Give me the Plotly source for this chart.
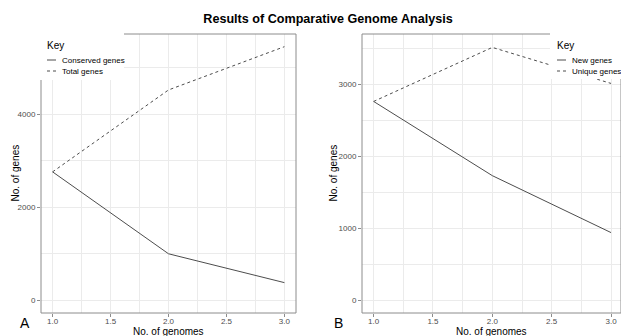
import plotly.graph_objects as go

# ---- data ----
genomes = [1.0, 2.0, 3.0]
conserved_genes = [2760, 1000, 380]
total_genes = [2760, 4520, 5450]
new_genes = [2760, 1730, 940]
unique_genes = [2760, 3510, 3010]

W, H = 621, 336
T, B = 34, 313  # plot area top / bottom in px

def px(x):
    return x / W

def py(y):
    return (B - y) / (B - T)

FONT = "Liberation Sans"
LINE_COL = "#4d4d4d"
GRID = "#ebebeb"
BORDER = "#8c8c8c"

fig = go.Figure()
fig.add_trace(go.Scatter(x=genomes, y=conserved_genes, mode="lines", name="Conserved genes",
                         line=dict(color=LINE_COL, width=1), xaxis="x", yaxis="y", showlegend=False))
fig.add_trace(go.Scatter(x=genomes, y=total_genes, mode="lines", name="Total genes",
                         line=dict(color=LINE_COL, width=1, dash="dot"), xaxis="x", yaxis="y", showlegend=False))
fig.add_trace(go.Scatter(x=genomes, y=new_genes, mode="lines", name="New genes",
                         line=dict(color=LINE_COL, width=1), xaxis="x2", yaxis="y2", showlegend=False))
fig.add_trace(go.Scatter(x=genomes, y=unique_genes, mode="lines", name="Unique genes",
                         line=dict(color=LINE_COL, width=1, dash="dot"), xaxis="x2", yaxis="y2", showlegend=False))

tickfont = dict(family=FONT, size=8, color="#4d4d4d")

def xax(domain, rng, anchor):
    return dict(domain=domain, range=rng, anchor=anchor, tick0=1, dtick=0.5, tickformat=".1f",
                showgrid=True, gridcolor=GRID, gridwidth=1,
                minor=dict(dtick=0.25, tick0=1, showgrid=True, gridcolor=GRID, gridwidth=0.5),
                ticks="outside", ticklen=3, tickcolor=BORDER, tickfont=tickfont,
                ticklabelstandoff=-3,
                zeroline=False, showline=False, automargin=False)

def yax(anchor, rng, dtick):
    return dict(anchor=anchor, range=rng, dtick=dtick, tick0=0,
                showgrid=True, gridcolor=GRID, gridwidth=1,
                minor=dict(dtick=dtick / 2, tick0=0, showgrid=True, gridcolor=GRID, gridwidth=0.5),
                ticks="outside", ticklen=3, tickcolor=BORDER, tickfont=tickfont,
                zeroline=False, showline=False, automargin=False)

fig.update_layout(
    width=W, height=H, autosize=False,
    margin=dict(l=0, r=0, t=T, b=H - B, pad=0),
    plot_bgcolor="white", paper_bgcolor="white",
    title=dict(text="Results of Comparative Genome Analysis", x=px(328), xref="paper",
               xanchor="center", y=1 - 19 / H, yanchor="middle",
               font=dict(family=FONT, size=12.6, color="#000000", weight="bold")),
    xaxis=xax([px(41), px(296)], [0.9, 3.1], "y"),
    yaxis=yax("x", [-272.5, 5722.5], 2000),
    xaxis2=xax([px(362), 1.0], [0.902, 3.084], "y2"),
    yaxis2=yax("x2", [-176, 3696], 1000),
)

shapes = []
# panel borders
for xr, yr in (("x domain", "y domain"), ("x2 domain", "y2 domain")):
    shapes.append(dict(type="rect", xref=xr, yref=yr, x0=0, x1=1, y0=0, y1=1,
                       line=dict(color=BORDER, width=1), layer="above"))
# legend backgrounds
shapes.append(dict(type="rect", xref="paper", yref="paper", x0=px(34), x1=px(124),
                   y0=py(80), y1=py(28), fillcolor="white", line=dict(width=0), layer="above"))
shapes.append(dict(type="rect", xref="paper", yref="paper", x0=px(550), x1=1.0,
                   y0=py(79), y1=py(28), fillcolor="white", line=dict(width=0), layer="above"))
# legend keys
for (x0, x1), yv, dash in (((47, 56), 60, "solid"), ((47, 56), 71, "dot"),
                           ((557, 566), 60, "solid"), ((557, 566), 71, "dot")):
    shapes.append(dict(type="line", xref="paper", yref="paper", x0=px(x0), x1=px(x1),
                       y0=py(yv), y1=py(yv), line=dict(color=LINE_COL, width=1, dash=dash),
                       layer="above"))
fig.update_layout(shapes=shapes)

ann = []
def label(text, x, y, size, color="#000000", anchor="left", angle=0):
    ann.append(dict(text=text, x=px(x), y=py(y), xref="paper", yref="paper",
                    xanchor=anchor, yanchor="middle", showarrow=False, textangle=angle,
                    font=dict(family=FONT, size=size, color=color)))

label("Key", 45, 45, 10)
label("Conserved genes", 60, 60, 8)
label("Total genes", 60, 71, 8)
label("Key", 555, 45, 10)
label("New genes", 570, 60, 8)
label("Unique genes", 570, 71, 8)
label("A", 25, 323, 14, anchor="center")
label("B", 338, 323, 14, anchor="center")
# axis titles
label("No. of genomes", 168.5, 331.5, 10, anchor="center")
label("No. of genomes", 491.5, 331.5, 10, anchor="center")
label("No. of genes", 15, 173.5, 10, anchor="center", angle=-90)
label("No. of genes", 333, 173.5, 10, anchor="center", angle=-90)
fig.update_layout(annotations=ann)

fig.write_html("out.html", config={"displayModeBar": False},
               post_script="document.body.style.margin='0px';")
